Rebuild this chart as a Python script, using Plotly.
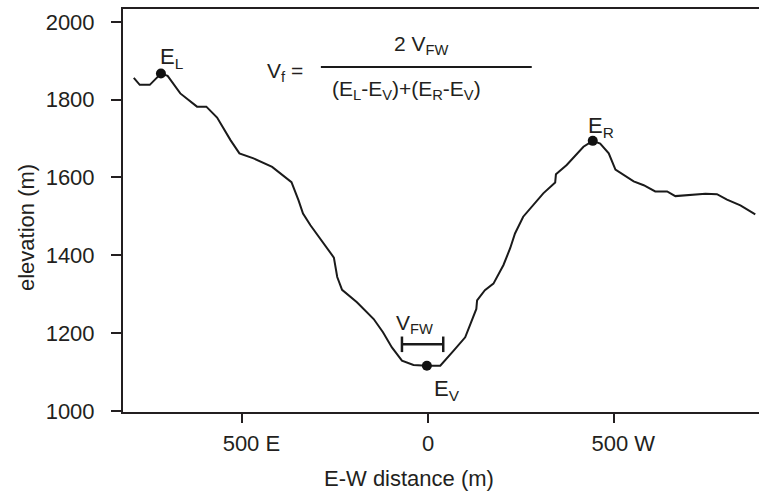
import plotly.graph_objects as go

# Cross-section profile (E-W distance in m, negative = east; elevation in m)
dist = [-792, -776, -749, -719, -701, -667, -622, -597, -568, -532, -508, -470,
        -420, -368, -349, -337, -317, -254, -245, -232, -192, -147, -122, -98,
        -71, -40, -4, 32, 68, 99, 113, 129, 131, 152, 175, 202, 220, 233, 255,
        282, 309, 341, 343, 372, 403, 417, 442, 462, 485, 503, 552, 579, 610,
        642, 664, 745, 776, 803, 839, 879]
elev = [1856, 1838, 1838, 1867, 1861, 1816, 1782, 1782, 1754, 1696, 1662, 1649,
        1627, 1588, 1541, 1507, 1477, 1394, 1344, 1311, 1279, 1236, 1202, 1163,
        1129, 1118, 1116, 1116, 1155, 1189, 1223, 1262, 1284, 1310, 1327, 1375,
        1418, 1456, 1499, 1529, 1559, 1587, 1608, 1632, 1666, 1679, 1694, 1687,
        1662, 1620, 1590, 1580, 1564, 1564, 1552, 1558, 1557, 1543, 1528, 1505]

# Key points: E_L, E_V, E_R
pt_names = ["E<sub>L</sub>", "E<sub>V</sub>", "E<sub>R</sub>"]
pt_x = [-719, -4, 442]
pt_y = [1867, 1116, 1694]

# Valley floor width V_FW
vfw_x = [-71, 40]
vfw_y = 1171

x_tickvals = [-500, 0, 500]
x_ticktext = ["500\u00a0E", "0\u00a0\u00a0\u00a0", "500\u00a0W"]
y_tickvals = [1000, 1200, 1400, 1600, 1800, 2000]

INK = "#231f20"
FONT = "Liberation Sans, Arial, sans-serif"

fig = go.Figure()
fig.add_trace(go.Scatter(x=dist, y=elev, mode="lines",
                         line=dict(color="#1a1a1a", width=2), showlegend=False,
                         hoverinfo="skip"))
fig.add_trace(go.Scatter(x=pt_x, y=pt_y, mode="markers",
                         marker=dict(color="#111", size=10), showlegend=False))

# V_FW bar with end caps
cap = 20
fig.add_shape(type="line", x0=vfw_x[0], x1=vfw_x[1], y0=vfw_y, y1=vfw_y,
              line=dict(color="#1a1a1a", width=2.5))
for xv in vfw_x:
    fig.add_shape(type="line", x0=xv, x1=xv, y0=vfw_y - cap, y1=vfw_y + cap,
                  line=dict(color="#1a1a1a", width=2.5))

# Fraction line of formula
fig.add_shape(type="line", x0=-289, x1=278, y0=1884, y1=1884,
              line=dict(color="#1a1a1a", width=2))

ann = []
lab_pos = [(-689, 1906), (50, 1053), (464, 1729)]
for name, (ax_, ay_) in zip(pt_names, lab_pos):
    ann.append(dict(x=ax_, y=ay_, text=name, showarrow=False,
                    font=dict(size=22, color=INK, family=FONT)))
ann.append(dict(x=-38, y=1223, text="V<sub>FW</sub>", showarrow=False,
                font=dict(size=21, color=INK, family=FONT)))
ann.append(dict(x=-386, y=1870, text="V<sub>f</sub> =", showarrow=False,
                font=dict(size=21, color=INK, family=FONT)))
ann.append(dict(x=-18, y=1940, text="2 V<sub>FW</sub>", showarrow=False,
                font=dict(size=21, color=INK, family=FONT)))
ann.append(dict(x=-58, y=1826,
                text="(E<sub>L</sub>-E<sub>V</sub>)+(E<sub>R</sub>-E<sub>V</sub>)",
                showarrow=False, font=dict(size=21, color=INK, family=FONT)))
# axis titles
ann.append(dict(xref="paper", yref="paper", x=(409 - 123) / 636,
                y=(412 - 478) / 403, yanchor="middle",
                text="E-W distance (m)", showarrow=False,
                font=dict(size=22, color=INK, family=FONT)))
ann.append(dict(xref="paper", yref="paper", x=(26 - 123) / 636,
                y=(412 - 228) / 403, xanchor="center", yanchor="middle",
                textangle=-90,
                text="elevation (m)", showarrow=False,
                font=dict(size=22, color=INK, family=FONT)))

fig.update_layout(
    width=759, height=493,
    margin=dict(l=123, r=0, t=9, b=81),
    plot_bgcolor="white", paper_bgcolor="white",
    annotations=ann,
    font=dict(family=FONT, color=INK),
)
fig.update_xaxes(range=[-821, 889], tickvals=x_tickvals, ticktext=x_ticktext,
                 showgrid=False, zeroline=False, showline=True, linecolor=INK,
                 linewidth=2, mirror=True, ticks="outside", ticklen=9,
                 tickwidth=2, tickcolor=INK, ticklabelshift=9,
                 ticklabelstandoff=2,
                 tickfont=dict(size=22, color=INK, family=FONT))
fig.update_yaxes(range=[997, 2033], tickvals=y_tickvals,
                 showgrid=False, zeroline=False, showline=True, linecolor=INK,
                 linewidth=2, ticks="outside", ticklen=10, tickwidth=2,
                 tickcolor=INK, ticklabelstandoff=12,
                 tickfont=dict(size=22, color=INK, family=FONT))

fig.write_html("out.html")
